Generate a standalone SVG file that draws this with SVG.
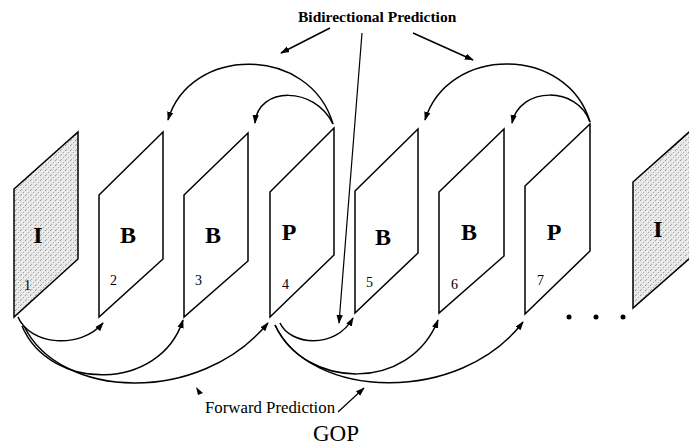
<svg xmlns="http://www.w3.org/2000/svg" width="689" height="447" viewBox="0 0 689 447">
<defs>
<pattern id="stip" width="5" height="5" patternUnits="userSpaceOnUse">
<rect width="5" height="5" fill="#e6e6e6"/>
<rect x="0" y="0" width="1" height="1" fill="#9a9a9a"/>
<rect x="3" y="2" width="1" height="1" fill="#a8a8a8"/>
<rect x="1" y="4" width="1" height="1" fill="#b0b0b0"/>
<rect x="4" y="3" width="1" height="1" fill="#f8f8f8"/>
<rect x="2" y="1" width="1" height="1" fill="#ffffff"/>
</pattern>
<marker id="ah" viewBox="0 0 10 10" refX="9" refY="5" markerWidth="9" markerHeight="9" markerUnits="userSpaceOnUse" orient="auto">
<path d="M0,1.5 L10,5 L0,8.5 Z" fill="#000"/>
</marker>
<clipPath id="cl"><rect width="689" height="447"/></clipPath>
</defs>
<style>
.fr{fill:#fff;stroke:#000;stroke-width:1.5;stroke-linejoin:miter}
.sh{fill:url(#stip);stroke:#000;stroke-width:1.5}
.lab{font-family:"Liberation Serif",serif;font-weight:bold;font-size:24px;text-anchor:middle}
.num{font-family:"Liberation Serif",serif;font-size:14px;fill:#000}
.ar{fill:none;stroke:#000;stroke-width:1.5;marker-end:url(#ah)}
</style>
<rect width="689" height="447" fill="#fff"/>
<g id="frame1"><polygon class="sh" points="14,189 78,132 78,259 14,317"/><text class="lab" x="38" y="243">I</text><text class="num" x="24" y="290">1</text></g>
<g id="frame2"><polygon class="fr" points="99,195 163,132 163,259 99,317"/><text class="lab" x="128" y="243">B</text><text class="num" x="110" y="285">2</text></g>
<g id="frame3"><polygon class="fr" points="184,195 248,133 248,261 184,317"/><text class="lab" x="213" y="243">B</text><text class="num" x="195" y="285">3</text></g>
<g id="frame4"><polygon class="fr" points="270,192 334,128 334,255 270,317"/><text class="lab" x="289" y="240">P</text><text class="num" x="282" y="289">4</text></g>
<g id="frame5"><polygon class="fr" points="355,191 418,129 418,253 355,313"/><text class="lab" x="383" y="245">B</text><text class="num" x="366" y="287">5</text></g>
<g id="frame6"><polygon class="fr" points="439,192 504,129 504,256 439,313"/><text class="lab" x="469" y="240">B</text><text class="num" x="451" y="289">6</text></g>
<g id="frame7"><polygon class="fr" points="525,186 590,124 590,251 525,314"/><text class="lab" x="554" y="240">P</text><text class="num" x="537" y="285">7</text></g>
<g id="frame8" clip-path="url(#cl)"><polygon class="sh" points="633,182 697,125 697,252 633,308"/><text class="lab" x="658" y="237">I</text></g>
<g id="ellipsis"><circle cx="569" cy="317" r="2.5"/><circle cx="596" cy="317" r="2.5"/><circle cx="623" cy="317" r="2.5"/></g>
<g id="connectors">
<path class="ar" d="M333,124 C310,45 190,45 168,120"/>
<path class="ar" d="M333,124 C315,86 258,86 255,123"/>
<path class="ar" d="M590,122 C567,45 448,45 425,120"/>
<path class="ar" d="M590,122 C578,86 520,86 512,123"/>
<path class="ar" d="M18,317 C30,345 80,350 103,323"/>
<path class="ar" d="M22,326 C50,392 160,392 183,320"/>
<path class="ar" d="M24,326 C60,400 200,405 268,323"/>
<path class="ar" d="M280,323 C290,345 335,350 353,318"/>
<path class="ar" d="M275,325 C305,390 410,392 438,320"/>
<path class="ar" d="M275,325 C310,400 460,405 523,322"/>
<path class="ar" d="M330,28 L281,53"/>
<path class="ar" d="M413,33 L473,60"/>
<path class="ar" style="stroke-width:1.2" d="M362,33 L339,323"/>
<path class="ar" style="stroke-width:1.2" d="M338,412 L364,388"/>
<path d="M196,387 L203,393 L198,395 Z" fill="#000"/>
</g>
<g id="texts">
<text x="298" y="22" style="font-family:'Liberation Serif',serif;font-weight:bold;font-size:15.5px">Bidirectional Prediction</text>
<text x="205" y="413" style="font-family:'Liberation Serif',serif;font-size:16.8px">Forward Prediction</text>
<text x="336" y="441" text-anchor="middle" style="font-family:'Liberation Serif',serif;font-size:23px">GOP</text>
</g>
</svg>
